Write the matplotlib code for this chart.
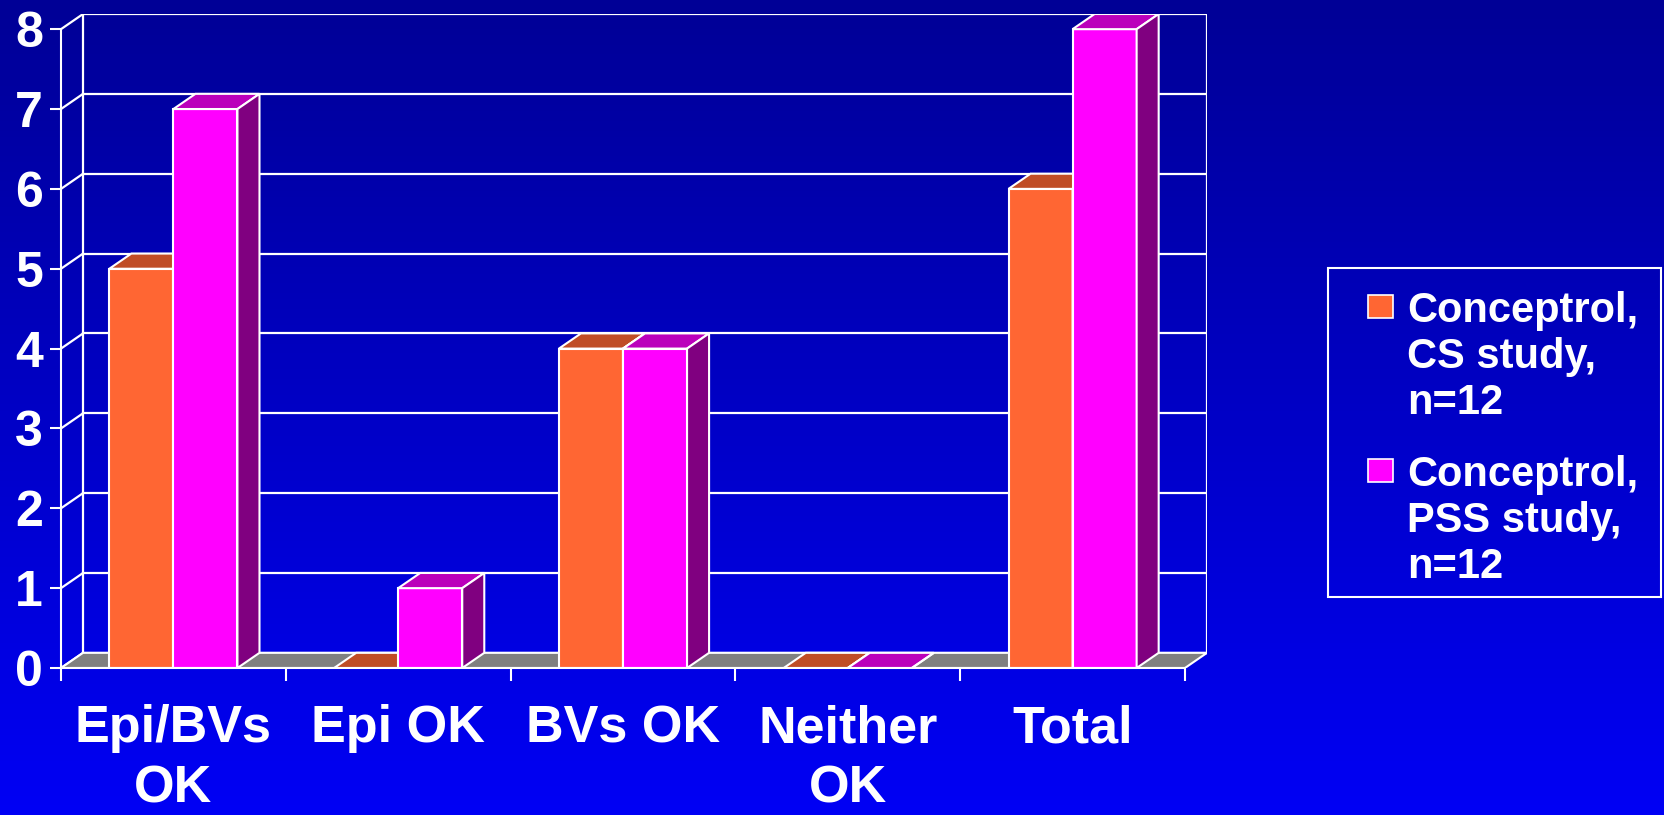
import numpy as np
import matplotlib.pyplot as plt
from matplotlib.patches import Polygon, Rectangle
from matplotlib.colors import LinearSegmentedColormap

plt.rcParams['font.family'] = 'Liberation Sans'
plt.rcParams['font.weight'] = 'bold'

categories = ["Epi/BVs\nOK", "Epi OK", "BVs OK", "Neither\nOK", "Total"]
cs_study = [5, 0, 4, 0, 6]
pss_study = [7, 1, 4, 0, 8]
series_labels = ["Conceptrol,\nCS study,\nn=12", "Conceptrol,\nPSS study,\nn=12"]

front_col = ["#FF6633", "#FF00FF"]
top_col = ["#C04D26", "#BB00BB"]
side_col = ["#99401F", "#800080"]

W, H = 1664, 815
dx, dy = 0.098, 0.19   # fake depth
w = 0.285

fig = plt.figure(figsize=(W / 100, H / 100), dpi=100)

# gradient background
bg = fig.add_axes([0, 0, 1, 1], zorder=-10)
grad = np.linspace(0, 1, 256)[:, None]
bg.imshow(grad, aspect='auto', extent=[0, 1, 0, 1], origin='upper',
          cmap=LinearSegmentedColormap.from_list('bg', ['#000096', '#0000F5']))
bg.axis('off')

ax = fig.add_axes([61 / W, 1 - 668 / H, 1146 / W, 654 / H])
ax.set_facecolor('none')
n = len(categories)
x0, x1 = -0.5, n - 0.5
ax.set_xlim(x0, x1 + dx)
ax.set_ylim(0, 8 + dy)

# back wall and side wall grid
for k in range(9):
    ax.plot([x0 + dx, x1 + dx], [k + dy, k + dy], color='white', lw=1.6, zorder=1)
    ax.plot([x0, x0 + dx], [k, k + dy], color='white', lw=1.6, zorder=1)
ax.plot([x0 + dx, x0 + dx], [dy, 8 + dy], color='white', lw=1.6, zorder=1)
ax.plot([x1 + dx, x1 + dx], [dy, 8 + dy], color='white', lw=1.6, zorder=1)

# floor
ax.add_patch(Polygon([(x0, 0), (x1, 0), (x1 + dx, dy), (x0 + dx, dy)],
                     fc='#808080', ec='white', lw=1.5, zorder=2))

xs = np.arange(n)
for s, vals in enumerate([cs_study, pss_study]):
    pos = xs + (s - 0.5) * w
    z = 3 + s
    ax.bar(pos, vals, w, color=front_col[s], edgecolor='white', lw=1.5, zorder=z)
    for p, v in zip(pos, vals):
        l, r = p - w / 2, p + w / 2
        ax.add_patch(Polygon([(l, v), (r, v), (r + dx, v + dy), (l + dx, v + dy)],
                             fc=top_col[s], ec='white', lw=1.5, zorder=z))
        ax.add_patch(Polygon([(r, 0), (r + dx, dy), (r + dx, v + dy), (r, v)],
                             fc=side_col[s], ec='white', lw=1.5, zorder=z))

ax.set_yticks(range(9))
ax.tick_params(axis='y', colors='white', labelsize=36, length=8, width=1.5, pad=5)
ax.set_xticks(xs, categories)
ax.set_xticks(np.arange(n + 1) - 0.5, minor=True)
ax.tick_params(axis='x', which='major', length=0, pad=26, labelsize=37.5, labelcolor='white')
ax.tick_params(axis='x', which='minor', length=9, width=1.5, color='white')
for lab in ax.get_xticklabels():
    lab.set_linespacing(1.3)
for sp in ['top', 'right']:
    ax.spines[sp].set_visible(False)
for sp in ['left', 'bottom']:
    ax.spines[sp].set_color('white')
    ax.spines[sp].set_linewidth(1.5)
    ax.spines[sp].set_zorder(6)
ax.spines['left'].set_bounds(0, 8)
ax.spines['bottom'].set_bounds(x0, x1)

# legend
fig.patches.append(Rectangle((1328 / W, 1 - 597 / H), (1661 - 1328) / W, (597 - 268) / H,
                             transform=fig.transFigure, fill=False, ec='white', lw=1.5))
for s, ytop in enumerate([291, 455]):
    fig.patches.append(Rectangle((1368 / W, 1 - (ytop + 27) / H), 25 / W, 23 / H,
                                 transform=fig.transFigure, fc=front_col[s], ec='white', lw=1.2))
    fig.text(1407 / W, 1 - ytop / H, series_labels[s], color='white', fontsize=30,
             va='top', ha='left')

fig.savefig('out.png', dpi=100)
